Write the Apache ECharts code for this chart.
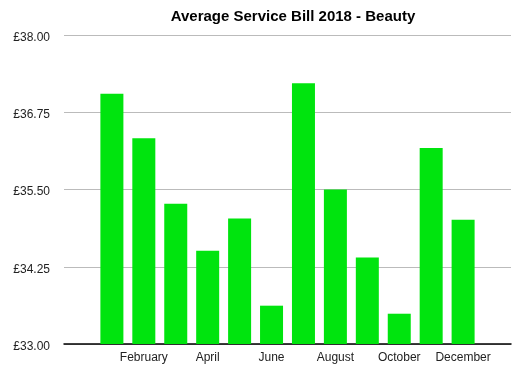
<!DOCTYPE html>
<html><head><meta charset="utf-8">
<script src="https://cdn.jsdelivr.net/npm/echarts@6/dist/echarts.min.js"></script>
<style>html,body{margin:0;padding:0;background:#fff}#c{width:519px;height:373px}</style>
</head><body><div id="c"></div>
<script>
const months = ['January','February','March','April','May','June','July','August','September','October','November','December'];
const values = [37.05, 36.33, 35.27, 34.51, 35.03, 33.62, 37.22, 35.50, 34.40, 33.49, 36.17, 35.01];
const yTicks = [33.00, 34.25, 35.50, 36.75, 38.00];

const axisData = [''].concat(months).concat(['']);
const seriesData = ['-'].concat(values).concat(['-']);

const chart = echarts.init(document.getElementById('c'));
chart.setOption({
  animation: false,
  title: {
    text: 'Average Service Bill 2018 - Beauty',
    left: 288, top: 4, textAlign: 'center',
    textStyle: {fontFamily: 'Liberation Sans, Arial, sans-serif', fontSize: 15, fontWeight: 'bold', color: '#000'}
  },
  grid: {left: 64, right: 8, top: 35, bottom: 29, containLabel: false},
  xAxis: {
    type: 'category', data: axisData,
    axisLine: {lineStyle: {color: '#000', width: 1.5}},
    axisTick: {show: false},
    axisLabel: {interval: 1, margin: 8, fontFamily: 'Liberation Sans, Arial, sans-serif', fontSize: 12, color: '#222'}
  },
  yAxis: {
    type: 'value', min: yTicks[0], max: yTicks[yTicks.length-1], interval: 1.25,
    axisLine: {show: false}, axisTick: {show: false},
    splitLine: {lineStyle: {color: '#bbbbbb', width: 1}},
    axisLabel: {margin: 14, color: '#222',
      formatter: v => '{a|£' + v.toFixed(2) + '}',
      rich: {a: {fontFamily: 'Liberation Sans, Arial, sans-serif', fontSize: 12, color: '#222', padding: [5, 0, 0, 0]}}}
  },
  series: [{
    type: 'bar', data: seriesData, barWidth: 23,
    itemStyle: {color: '#00e40e'}
  }]
});
</script></body></html>
